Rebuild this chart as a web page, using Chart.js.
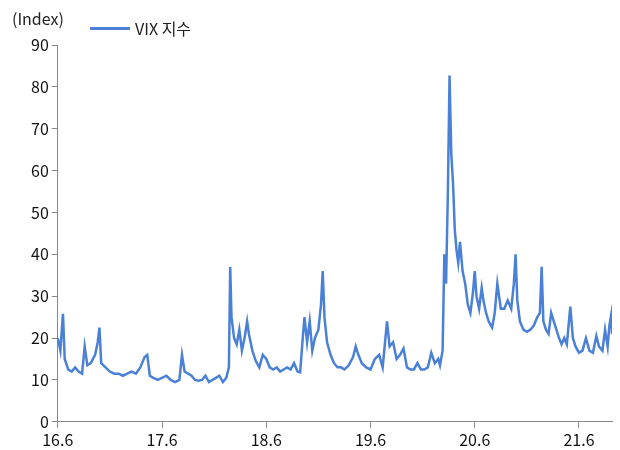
<!DOCTYPE html>
<html>
<head>
<meta charset="utf-8">
<script src="https://cdn.jsdelivr.net/npm/chart.js@4"></script>
<style>
  body { margin: 0; background: #fff; overflow: hidden; }
  #wrap { position: relative; width: 620px; height: 450px; overflow: hidden; }
  .txt { position: absolute; font: 16px 'Noto Sans CJK KR', sans-serif; color: #222; white-space: nowrap; }
  #unit { left: 12px; top: 6px; }
  #legend { left: 90px; top: 16px; display: flex; align-items: center; }
  #legend span.sw { display: inline-block; width: 40px; height: 3px; background: #4a80d6; margin-right: 5px; }
</style>
</head>
<body>
<div id="wrap">
  <div id="unit" class="txt">(Index)</div>
  <div id="legend" class="txt"><span class="sw"></span>VIX 지수</div>
  <canvas id="myChart" width="620" height="453"></canvas>
</div>
<script>
// months since Jun 2016
const months = [0,0.3,0.6,0.8,1.2,1.6,2.0,2.4,2.8,3.1,3.4,3.8,4.3,4.6,4.8,5.0,5.5,6.0,6.5,7.0,7.5,8.0,8.5,9.0,9.5,10.0,10.3,10.6,11.0,11.5,12.0,12.5,13.0,13.5,14.0,14.3,14.6,15.0,15.4,15.8,16.2,16.6,17.0,17.4,17.8,18.2,18.6,19.0,19.4,19.7,19.85,20.0,20.3,20.6,20.9,21.2,21.5,21.8,22.0,22.4,22.8,23.2,23.6,24.0,24.4,24.8,25.2,25.6,26.0,26.4,26.8,27.2,27.6,27.9,28.2,28.4,28.7,29.0,29.3,29.6,30.0,30.3,30.5,30.7,31.0,31.4,31.8,32.2,32.6,33.0,33.5,34.0,34.3,34.6,35.0,35.5,36.0,36.5,37.0,37.4,37.9,38.2,38.6,39.0,39.4,39.8,40.2,40.6,41.0,41.4,41.8,42.2,42.6,43.0,43.4,43.8,44.0,44.3,44.5,44.7,44.9,45.1,45.3,45.5,45.7,45.9,46.1,46.3,46.6,46.9,47.2,47.5,47.8,48.0,48.2,48.5,48.8,49.0,49.3,49.6,50.0,50.3,50.6,51.0,51.4,51.8,52.2,52.5,52.7,52.9,53.2,53.6,54.0,54.4,54.8,55.2,55.5,55.7,55.9,56.2,56.5,56.8,57.1,57.4,57.7,58.0,58.3,58.6,59.0,59.3,59.6,60.0,60.4,60.8,61.2,61.6,62.0,62.3,62.7,63.0,63.3,63.5,63.7,63.8]
const vix = [20,17,25.8,15,12.5,12,13,12,11.5,18,13.5,14,16,19,22.5,14,13,12,11.5,11.5,11,11.5,12,11.5,13,15.5,16,11,10.5,10,10.5,11,10,9.5,10,16,12,11.5,11,10,9.8,10,11,9.5,10,10.5,11,9.5,10.5,13,37,25,20,18.5,22,17,20,24,21,17,14.5,13,16,15,13,12.5,13,12,12.5,13,12.5,14,12,11.8,20,25,19,24,17,20,22,28,36,25,19,16,14,13,13,12.5,13.5,15.5,18,16,14,13,12.5,15,16,13,24,18,19,15,16,17.5,13,12.5,12.5,14,12.5,12.5,13,16.5,14,15,13.5,17,40,33,54,82.7,64,57,46,41,38,43,36,33,28,26,31,36,30,27,32,29,26,24,22.5,26,33,27,27,29,27,33,40,29,24,22,21.5,22,23,25,26,37,24,22,21,26,24,22,20,18.5,20,18.5,27.5,20,18,16.5,17,20,17,16.5,20.5,18,17,22,18,23,25.5,21]
const tickMonths = [0,12,24,36,48,60]
const tickLabels = ['16.6','17.6','18.6','19.6','20.6','21.6']

const points = months.map((m, i) => ({ x: m, y: vix[i] }))
const font = { family: "'Noto Sans CJK KR', sans-serif", size: 16 }

new Chart(document.getElementById('myChart'), {
  type: 'line',
  data: {
    datasets: [{
      label: 'VIX 지수',
      data: points,
      borderColor: '#4a80d6',
      borderWidth: 2.5,
      pointRadius: 0,
      tension: 0,
    }],
  },
  options: {
    responsive: false,
    animation: false,
    layout: { padding: { left: 28, right: 8, top: 45, bottom: 0 } },
    plugins: {
      legend: { display: false },
      tooltip: { enabled: false },
    },
    scales: {
      x: {
        type: 'linear', min: 0, max: 63.8,
        afterBuildTicks: (axis) => { axis.ticks = tickMonths.map(v => ({ value: v })) },
        ticks: {
          font: font, color: '#111', maxRotation: 0, autoSkip: false,
          callback: (v) => tickLabels[tickMonths.indexOf(v)],
        },
        grid: { display: true, drawOnChartArea: false, color: '#888', tickLength: 6 },
        border: { color: '#888' },
      },
      y: {
        min: 0, max: 90,
        ticks: { stepSize: 10, font: font, color: '#111' },
        grid: { display: true, drawOnChartArea: false, color: '#888', tickLength: 6 },
        border: { color: '#888' },
      },
    },
  },
})
</script>
</body>
</html>
